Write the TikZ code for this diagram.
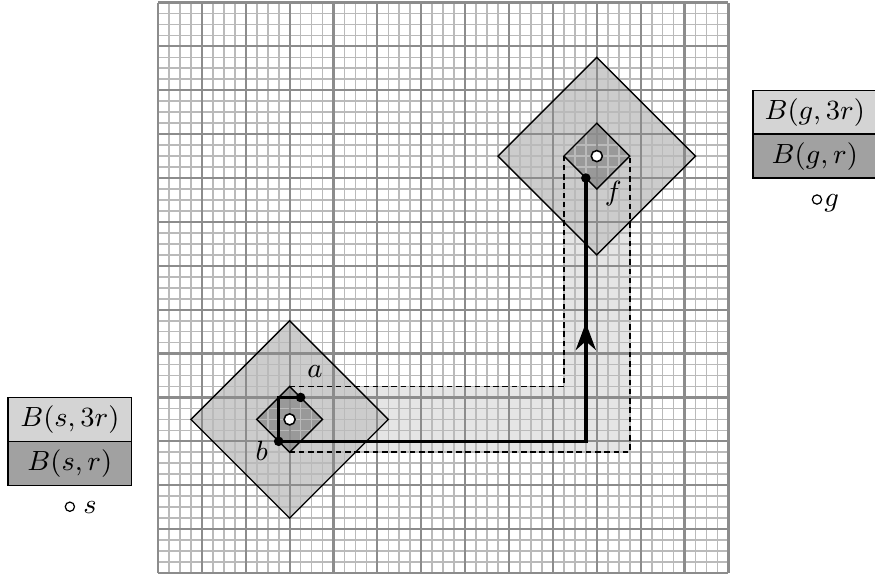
\documentclass[tikz,border=0pt]{standalone}
\usetikzlibrary{arrows.meta}
\begin{document}
\begin{tikzpicture}[scale=0.125,
  minorgrid/.style={draw=black!27, line width=0.55pt},
  majorgrid/.style={draw=black!45, line width=0.7pt},
  bigball/.style={fill=black!20},
  smallball/.style={fill=black!40},
  corridor/.style={fill=black!10},
  outline/.style={draw=black, line width=0.45pt},
  bound/.style={draw=black, line width=0.6pt, dash pattern=on 1.8pt off 1.2pt},
  route/.style={draw=black, line width=1.1pt},
  pt/.style={circle, fill=black, inner sep=0pt, minimum size=3.1pt},
  ctr/.style={circle, draw=black, fill=white, line width=0.5pt, inner sep=0pt, minimum size=3.6pt},
  legctr/.style={circle, draw=black, fill=white, line width=0.4pt, inner sep=0pt, minimum size=3pt},
  lab/.style={font=\fontsize{9.2}{11}\selectfont},
  legtop/.style={fill=black!17, draw=black, line width=0.45pt},
  legbot/.style={fill=black!37, draw=black, line width=0.45pt},
]
\useasboundingbox (-14.40,-0.27) rectangle (65.36,52.23);

% key points
\coordinate (s) at (12,14);
\coordinate (g) at (40,38);
\coordinate (a) at (13,16);
\coordinate (c1) at (11,16);
\coordinate (b) at (11,12);
\coordinate (c2) at (39,12);
\coordinate (tip) at (39,22.8);
\coordinate (f) at (39,36);

% corridor
\fill[corridor] (12,17) -- (37,17) -- (37,38) -- (43,38) -- (43,11) -- (12,11) -- cycle;

% balls of radius 3r
\fill[bigball] (3,14) -- (12,23) -- (21,14) -- (12,5) -- cycle;
\fill[bigball] (31,38) -- (40,47) -- (49,38) -- (40,29) -- cycle;
% balls of radius r
\fill[smallball] (9,14) -- (12,17) -- (15,14) -- (12,11) -- cycle;
\fill[smallball] (37,38) -- (40,41) -- (43,38) -- (40,35) -- cycle;

% grid
\foreach \i in {0,...,52} {
  \draw[minorgrid] (\i,0) -- (\i,52);
  \draw[minorgrid] (0,\i) -- (52,\i);
}
\foreach \i in {0,4,...,52} {
  \draw[majorgrid] (\i,0) -- (\i,52);
  \draw[majorgrid] (0,\i) -- (52,\i);
}

% outlines
\draw[outline] (3,14) -- (12,23) -- (21,14) -- (12,5) -- cycle;
\draw[outline] (31,38) -- (40,47) -- (49,38) -- (40,29) -- cycle;
\draw[outline] (9,14) -- (12,17) -- (15,14) -- (12,11) -- cycle;
\draw[outline] (37,38) -- (40,41) -- (43,38) -- (40,35) -- cycle;

% corridor boundary
\draw[bound] (12,17) -- (37,17) -- (37,38);
\draw[bound] (12,11) -- (43,11) -- (43,38);

% route
\draw[route] (a) -- (c1) -- (b) -- (c2) -- (f);
\draw[route, -{Stealth[length=0.31cm, width=0.23cm]}] (c2) -- (tip);

% centres and points
\node[ctr] (sc) at (s) {};
\node[ctr] (gc) at (g) {};
\node[pt] (ap) at (a) {};
\node[pt] (bp) at (b) {};
\node[pt] (fp) at (f) {};

\node[lab] (al) at (14.3,18.4) {$a$};
\node[lab] (bl) at (9.45,11.1) {$b$};
\node[lab] (fl) at (41.5,34.6) {$f$};

% legend for s
\draw[legtop] (-13.67,12) rectangle (-2.40,16);
\draw[legbot] (-13.67,8) rectangle (-2.40,12);
\node[lab] (ls3) at (-8.03,14) {$B(s,3r)$};
\node[lab] (ls1) at (-8.03,10) {$B(s,r)$};
\node[legctr] (lsc) at (-8.03,6.04) {};
\node[lab, anchor=base] (lsl) at (-6.2,5.4) {$s$};

% legend for g
\draw[legtop] (54.24,40) rectangle (66,44);
\draw[legbot] (54.24,36) rectangle (66,40);
\node[lab] (lg3) at (59.87,42) {$B(g,3r)$};
\node[lab] (lg1) at (59.87,38) {$B(g,r)$};
\node[legctr] (lgc) at (60.07,34.04) {};
\node[lab, anchor=base] (lgl) at (61.4,33.4) {$g$};
\end{tikzpicture}
\end{document}
